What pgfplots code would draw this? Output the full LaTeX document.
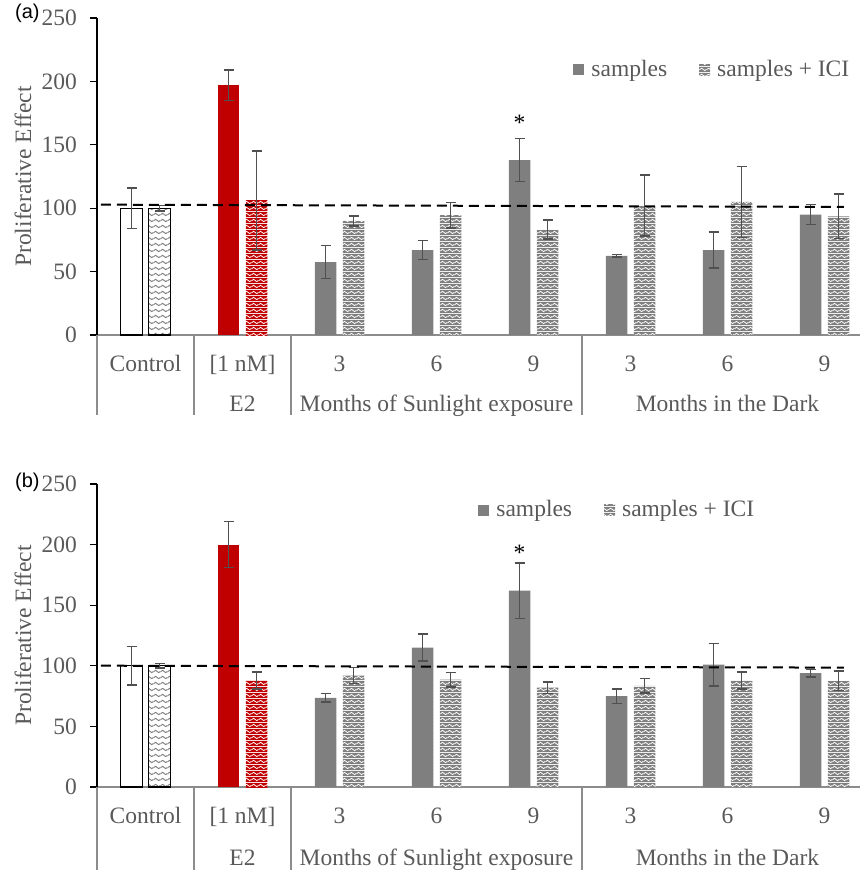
\documentclass[border=0pt]{standalone}
\usepackage{fontspec}
\setmainfont{Liberation Serif}
\newfontfamily\arialfont{Liberation Sans}
\usepackage{pgfplots}
\pgfplotsset{compat=1.18}
\usetikzlibrary{patterns.meta}
\definecolor{bargray}{HTML}{7F7F7F}
\definecolor{barred}{HTML}{C00000}
\definecolor{txtgray}{HTML}{595959}
\definecolor{errgray}{HTML}{505050}
\definecolor{sepgray}{HTML}{8C8C8C}
\newcommand\fs{\fontsize{23.5}{28}\selectfont}
\newcommand\wavepath{%
 \pgfpathmoveto{\pgfqpoint{0pt}{2.75pt}}%
 \pgfpathcurveto{\pgfqpoint{1.17pt}{4.4pt}}{\pgfqpoint{2.33pt}{4.4pt}}{\pgfqpoint{3.5pt}{2.75pt}}%
 \pgfpathcurveto{\pgfqpoint{4.67pt}{1.1pt}}{\pgfqpoint{5.83pt}{1.1pt}}{\pgfqpoint{7pt}{2.75pt}}%
}
\pgfdeclarepattern{name=wavegray, type=colored,
  bottom left={\pgfqpoint{0pt}{0pt}}, top right={\pgfqpoint{7pt}{5.5pt}},
  tile size={\pgfqpoint{7pt}{5.5pt}},
  code={\pgfsetfillcolor{bargray}\pgfpathrectangle{\pgfqpoint{0pt}{0pt}}{\pgfqpoint{7pt}{5.5pt}}\pgfusepath{fill}%
    \pgfsetstrokecolor{white}\pgfsetlinewidth{0.85pt}\wavepath\pgfusepath{stroke}}}
\pgfdeclarepattern{name=wavered, type=colored,
  bottom left={\pgfqpoint{0pt}{0pt}}, top right={\pgfqpoint{7pt}{5.5pt}},
  tile size={\pgfqpoint{7pt}{5.5pt}},
  code={\pgfsetfillcolor{barred}\pgfpathrectangle{\pgfqpoint{0pt}{0pt}}{\pgfqpoint{7pt}{5.5pt}}\pgfusepath{fill}%
    \pgfsetstrokecolor{white}\pgfsetlinewidth{0.85pt}\wavepath\pgfusepath{stroke}}}
\pgfdeclarepattern{name=wavewhite, type=colored,
  bottom left={\pgfqpoint{0pt}{0pt}}, top right={\pgfqpoint{7pt}{5.5pt}},
  tile size={\pgfqpoint{7pt}{5.5pt}},
  code={\pgfsetfillcolor{white}\pgfpathrectangle{\pgfqpoint{0pt}{0pt}}{\pgfqpoint{7pt}{5.5pt}}\pgfusepath{fill}%
    \pgfsetstrokecolor{bargray}\pgfsetlinewidth{1pt}\wavepath\pgfusepath{stroke}}}
\pgfplotsset{
 eb/.style={/pgfplots/error bars/y dir=both, /pgfplots/error bars/y explicit,
   /pgfplots/error bars/error bar style={line width=1.6pt,color=errgray,xshift=#1},
   /pgfplots/error bars/error mark options={rotate=90,mark size=5pt,line width=1.6pt,color=errgray}},
 sbar/.style={ybar, bar shift=-14pt, eb=-14pt},
 ibar/.style={ybar, bar shift=14pt, eb=14pt},
 panel/.style={
  scale only axis, width=763pt,
  xmin=-0.5, xmax=7.366, ymin=0, ymax=250,
  ytick={0,50,...,250},
  xtick={0,...,7}, xticklabels={Control,{[1 nM]},3,6,9,3,6,9},
  x tick style={draw=none}, major tick length=7pt,
  y tick style={black, line width=1.2pt}, tick align=outside,
  axis x line*=bottom, axis y line*=left,
  x axis line style={sepgray, line width=1.3pt, -},
  y axis line style={black, line width=1.3pt, -},
  bar width=21.5pt,
  clip=false,
  /pgf/number format/assume math mode=true,
  tick label style={txtgray, font=\fs},
  yticklabel style={xshift=-5pt},
  xticklabel style={anchor=base, yshift=-29pt},
  ylabel={Proliferative Effect},
  ylabel style={at={(axis description cs:-0.097,0.5)}, anchor=center, txtgray, font=\fs},
  legend columns=2,
  legend style={draw=none, fill=none, inner sep=0pt, font=\fs, nodes={text=txtgray},
    /tikz/every odd column/.append style={column sep=5pt},
    /tikz/every even column/.append style={column sep=30pt}},
 }
}
\begin{document}
\fs
\begin{tikzpicture}[font=\fs]
\path[use as bounding box] (0pt,0pt) rectangle (860pt,-870pt);
% ---------------- panel (a)
\begin{axis}[panel, at={(97pt,-335pt)}, anchor=south west, height=317pt,
  legend style={at={(axis cs:4.41,209)}, anchor=west}]
\addplot[sbar, fill=white, draw=black, line width=1.3pt, forget plot] coordinates {(0,100) +- (0,16)};
\addplot[ibar, pattern=wavewhite, draw=black, line width=1.3pt, forget plot] coordinates {(0,100) +- (0,2)};
\addplot[sbar, fill=barred, draw=none, forget plot] coordinates {(1,197) +- (0,12)};
\addplot[ibar, pattern=wavered, draw=none, forget plot] coordinates {(1,106) +- (0,39)};
\addplot[sbar, fill=bargray, draw=none,
  legend image code/.code={\fill[bargray] (0pt,-5.5pt) rectangle (11pt,5.5pt);}]
  coordinates {(2,57.5) +- (0,13) (3,67) +- (0,7.5) (4,138) +- (0,17)
               (5,62.5) +- (0,1) (6,67) +- (0,14) (7,95) +- (0,8)};
\addlegendentry{samples}
\addplot[ibar, pattern=wavegray, draw=none,
  legend image code/.code={\fill[pattern=wavegray] (0pt,-5.5pt) rectangle (11pt,5.5pt);}]
  coordinates {(2,90) +- (0,4) (3,94.5) +- (0,10) (4,83) +- (0,7.5)
               (5,102) +- (0,24) (6,105) +- (0,28) (7,93.5) +- (0,17.5)};
\addlegendentry{samples + ICI}
\addplot[sharp plot, no marks, black, line width=2pt, dash pattern=on 10pt off 6pt, forget plot]
  coordinates {(-0.46,102.8) (7.2,101)};
\node[black] at (axis cs:4,167) [xshift=-14pt] {*};
\pgfplotsinvokeforeach{-0.5,0.5,1.5,4.5}{
  \draw[sepgray, line width=1.3pt] (axis cs:#1,0) -- ++(0pt,-80pt);
}
\node[txtgray, anchor=base] at (axis cs:1,0) [yshift=-76.5pt] {E2};
\node[txtgray, anchor=base] at (axis cs:3,0) [yshift=-76.5pt] {Months of Sunlight exposure};
\node[txtgray, anchor=base] at (axis cs:6,0) [yshift=-76.5pt] {Months in the Dark};
\end{axis}
\node[anchor=west, inner sep=0pt, font=\arialfont\fontsize{20}{24}\selectfont] at (15pt,-13pt) {(a)};
% ---------------- panel (b)
\begin{axis}[panel, at={(97pt,-787pt)}, anchor=south west, height=303pt,
  legend style={at={(axis cs:3.43,228.5)}, anchor=west}]
\addplot[sbar, fill=white, draw=black, line width=1.3pt, forget plot] coordinates {(0,100) +- (0,16)};
\addplot[ibar, pattern=wavewhite, draw=black, line width=1.3pt, forget plot] coordinates {(0,100) +- (0,2)};
\addplot[sbar, fill=barred, draw=none, forget plot] coordinates {(1,200) +- (0,19)};
\addplot[ibar, pattern=wavered, draw=none, forget plot] coordinates {(1,88) +- (0,7)};
\addplot[sbar, fill=bargray, draw=none,
  legend image code/.code={\fill[bargray] (0pt,-5.5pt) rectangle (11pt,5.5pt);}]
  coordinates {(2,73.5) +- (0,3.5) (3,115) +- (0,11) (4,162) +- (0,23)
               (5,75) +- (0,6) (6,101) +- (0,17.5) (7,94) +- (0,3)};
\addlegendentry{samples}
\addplot[ibar, pattern=wavegray, draw=none,
  legend image code/.code={\fill[pattern=wavegray] (0pt,-5.5pt) rectangle (11pt,5.5pt);}]
  coordinates {(2,92) +- (0,6.5) (3,88.5) +- (0,6) (4,82) +- (0,4.7)
               (5,83.5) +- (0,6) (6,88) +- (0,7) (7,87.5) +- (0,8)};
\addlegendentry{samples + ICI}
\addplot[sharp plot, no marks, black, line width=2pt, dash pattern=on 10pt off 6pt, forget plot]
  coordinates {(-0.46,100.1) (7.2,98.5)};
\node[black] at (axis cs:4,193) [xshift=-14pt] {*};
\pgfplotsinvokeforeach{-0.5,0.5,1.5,4.5}{
  \draw[sepgray, line width=1.3pt] (axis cs:#1,0) -- ++(0pt,-85pt);
}
\node[txtgray, anchor=base] at (axis cs:1,0) [yshift=-78pt] {E2};
\node[txtgray, anchor=base] at (axis cs:3,0) [yshift=-78pt] {Months of Sunlight exposure};
\node[txtgray, anchor=base] at (axis cs:6,0) [yshift=-78pt] {Months in the Dark};
\end{axis}
\node[anchor=west, inner sep=0pt, font=\arialfont\fontsize{20}{24}\selectfont] at (15pt,-482pt) {(b)};
\end{tikzpicture}
\end{document}
